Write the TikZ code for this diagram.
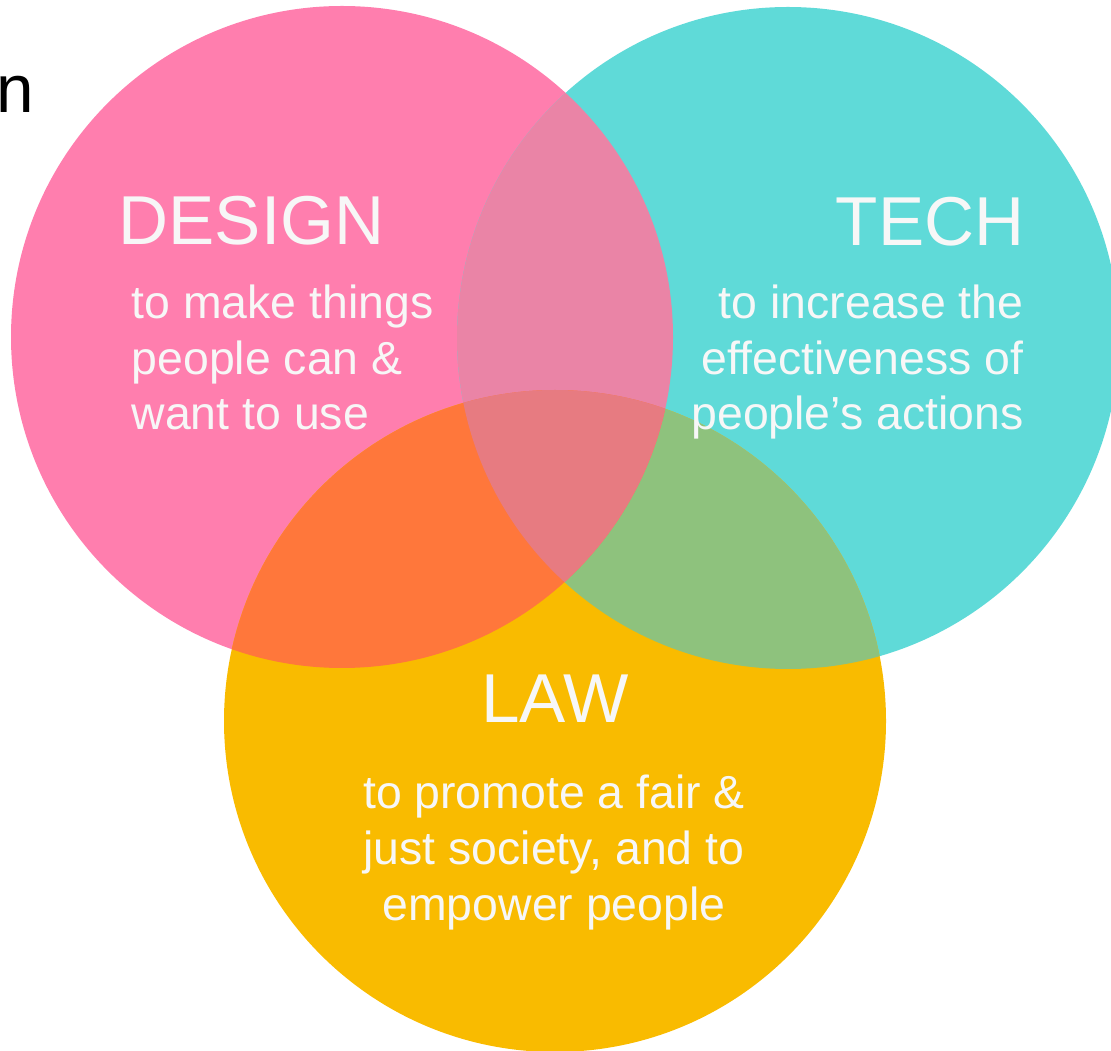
\documentclass[tikz,border=0pt]{standalone}
\usepackage{fontspec}
\setmainfont{Liberation Sans}
\definecolor{designc}{HTML}{FF7EAE}
\definecolor{techc}{HTML}{5FDAD8}
\definecolor{lawc}{HTML}{F9BB00}
\definecolor{dtc}{HTML}{EA84A6}
\definecolor{dlc}{HTML}{FF773B}
\definecolor{tlc}{HTML}{8EC27D}
\definecolor{allc}{HTML}{E77B81}
\definecolor{txt}{HTML}{F7F7F7}
\tikzset{
  heading/.style={font=\fontsize{19.7}{24}\selectfont, text=txt, inner sep=0},
  blurb/.style={font=\fontsize{13.2}{15.9}\selectfont, text=txt, inner sep=0},
}
\begin{document}
\begin{tikzpicture}[x=0.1mm, y=-0.1mm]
    \useasboundingbox (0,0) rectangle (1111,1051);
    \def\rr{33.1mm}
    \coordinate (design) at (342,337);
    \coordinate (tech) at (788,338);
    \coordinate (law) at (555,721);
    % circles
    \fill[designc] (design) circle[radius=\rr];
    \fill[techc] (tech) circle[radius=\rr];
    \fill[lawc] (law) circle[radius=\rr];
    % overlaps
    \begin{scope}
        \clip (tech) circle[radius=\rr];
        \fill[tlc] (law) circle[radius=\rr];
    \end{scope}
    \begin{scope}
        \clip (design) circle[radius=\rr];
        \fill[dtc] (tech) circle[radius=\rr];
        \fill[dlc] (law) circle[radius=\rr];
        \clip (tech) circle[radius=\rr];
        \fill[allc] (law) circle[radius=\rr];
    \end{scope}
    % labels (base = last line)
    \node[heading, anchor=base west] (designh) at (118,245) {DESIGN};
    \node[blurb, anchor=base west, align=left] (designb) at (131,430)
        {to make things\\people can \&\\want to use};
    \node[heading, anchor=base east] (techh) at (1025,246) {TECH};
    \node[blurb, anchor=base east, align=right] (techb) at (1024,430)
        {to increase the\\effectiveness of\\people’s actions};
    \node[heading, anchor=base] (lawh) at (555,722) {LAW};
    \node[blurb, anchor=base, align=center] (lawb) at (554,920)
        {to promote a fair \&\\just society, and to\\empower people};
    \node[font=\fontsize{19.2}{23}\selectfont, inner sep=0, anchor=base east] (cut) at (35,113) {n};
\end{tikzpicture}
\end{document}
